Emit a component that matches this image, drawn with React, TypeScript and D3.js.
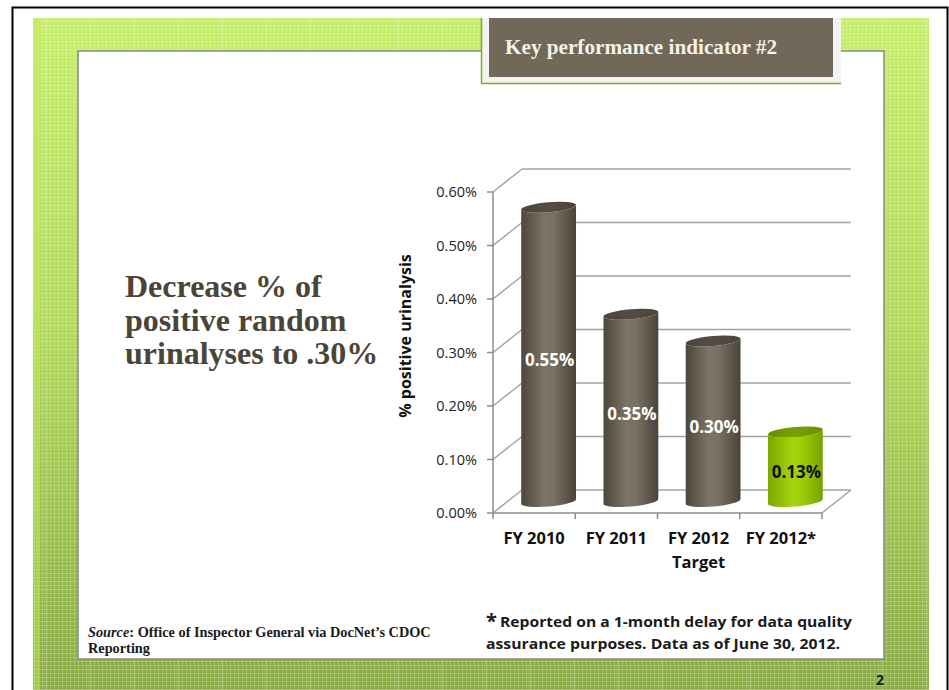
import React from "react";
import * as d3 from "d3";

// Chart data
const categories = ["FY 2010", "FY 2011", "FY 2012 Target", "FY 2012*"];
const categoryLines = [["FY 2010"], ["FY 2011"], ["FY 2012", "Target"], ["FY 2012*"]];
const values = [0.55, 0.35, 0.3, 0.13];
const highlight = [false, false, false, true];
const yTicks = [0, 0.1, 0.2, 0.3, 0.4, 0.5, 0.6];

const titleLines = ["Decrease % of", "positive random", "urinalyses to .30%"];
const footLines = ["Reported on a 1-month delay for data quality", "assurance purposes. Data as of June 30, 2012."];

const W = 949;
const H = 690;

// 3D depth offset of the plot box
const DX = 29;
const DY = -23;
const RX = 27.5;
const RY = 5;
const TILT = 5; // degrees

const x = d3.scaleBand<string>().domain(categories).range([493, 822]).padding(0);
const y = d3.scaleLinear().domain([0, 0.6]).range([513, 192]);

const fmt = (v: number) => `${v.toFixed(2)}%`;
const sansFont = "'Open Sans', 'Noto Sans', sans-serif";
const serifFont = "'Liberation Serif', 'DejaVu Serif', serif";

function Cylinder({ cx, top, bottom, green }: { cx: number; top: number; bottom: number; green: boolean }) {
  const t = (TILT * Math.PI) / 180;
  const ax = RX * Math.cos(t);
  const ay = RX * Math.sin(t);
  const body = [
    `M${cx - ax},${top + ay}`,
    `L${cx - ax},${bottom + ay}`,
    `A${RX},${RY} ${-TILT} 0 0 ${cx + ax},${bottom - ay}`,
    `L${cx + ax},${top - ay}`,
    `A${RX},${RY} ${-TILT} 0 1 ${cx - ax},${top + ay}`,
    "Z",
  ].join(" ");
  return (
    <g>
      <path d={body} fill={green ? "url(#bodyGreen)" : "url(#bodyBrown)"} />
      <ellipse
        cx={cx}
        cy={top}
        rx={RX}
        ry={RY}
        transform={`rotate(${-TILT},${cx},${top})`}
        fill={green ? "url(#topGreen)" : "url(#topBrown)"}
      />
    </g>
  );
}

export default function App() {
  const bw = x.bandwidth();
  const y0 = y(0);
  const xl = x.range()[0];
  const xr = x.range()[1];
  const gridStroke = "#a3a3a3";

  return (
    <svg
      width={W}
      height={H}
      viewBox={`0 0 ${W} ${H}`}
      style={{ position: "absolute", left: 0, top: 0, background: "#fff" }}
    >
      <defs>
        <linearGradient id="frameGrad" x1="0" y1="0" x2="0" y2="1">
          <stop offset="0" stopColor="#c4ed68" />
          <stop offset="0.45" stopColor="#b0d858" />
          <stop offset="1" stopColor="#88a943" />
        </linearGradient>
        <pattern id="mesh" width="4" height="4" patternUnits="userSpaceOnUse">
          <rect x="0" y="1" width="4" height="1" fill="#ffffff" opacity="0.22" />
          <rect x="2" y="0" width="1" height="4" fill="#ffffff" opacity="0.16" />
          <rect x="2" y="3" width="1" height="1" fill="#ffffff" opacity="0.15" />
        </pattern>
        <pattern id="bands" width="44" height="10" patternUnits="userSpaceOnUse">
          <rect x="0" y="0" width="4" height="10" fill="#ffffff" opacity="0.06" />
        </pattern>
        <linearGradient id="bodyBrown" x1="0" y1="0" x2="1" y2="0">
          <stop offset="0" stopColor="#4d463c" />
          <stop offset="0.42" stopColor="#7c7466" />
          <stop offset="0.6" stopColor="#787062" />
          <stop offset="1" stopColor="#4a4339" />
        </linearGradient>
        <linearGradient id="topBrown" x1="0" y1="0" x2="1" y2="0">
          <stop offset="0" stopColor="#4b443a" />
          <stop offset="0.5" stopColor="#554d43" />
          <stop offset="1" stopColor="#4a433a" />
        </linearGradient>
        <linearGradient id="bodyGreen" x1="0" y1="0" x2="1" y2="0">
          <stop offset="0" stopColor="#7aa800" />
          <stop offset="0.45" stopColor="#a6d40c" />
          <stop offset="0.6" stopColor="#a0cf08" />
          <stop offset="1" stopColor="#76a200" />
        </linearGradient>
        <linearGradient id="topGreen" x1="0" y1="0" x2="1" y2="0">
          <stop offset="0" stopColor="#6a9000" />
          <stop offset="0.5" stopColor="#78a000" />
          <stop offset="1" stopColor="#6a8f00" />
        </linearGradient>
      </defs>

      {/* slide border */}
      <rect x={12.5} y={7.5} width={935} height={700} fill="#fff" stroke="#000" strokeWidth={2} />

      {/* textured green frame */}
      <rect x={33} y={18} width={896} height={680} fill="url(#frameGrad)" />
      <rect x={33} y={18} width={896} height={680} fill="url(#mesh)" />
      <rect x={33} y={18} width={896} height={680} fill="url(#bands)" />
      <rect x={33} y={18} width={7} height={680} fill="#c0e85a" opacity={0.45} />

      {/* white content panel */}
      <rect x={78} y={51} width={806} height={608} fill="#fff" stroke="#8a8a8a" strokeWidth={1.5} />

      {/* heading box */}
      <rect x={481} y={18} width={360} height={65} fill="#f3f3f3" />
      <line x1={481.5} y1={18} x2={481.5} y2={83.5} stroke="#7fb01c" strokeWidth={1.5} />
      <line x1={481} y1={83.5} x2={841} y2={83.5} stroke="#7fb01c" strokeWidth={1.5} />
      <rect x={489} y={18} width={344} height={59} fill="#726859" />
      <text x={505} y={54} fontFamily={serifFont} fontWeight="bold" fontSize={21.2} fill="#f6f2ea">
        Key performance indicator #2
      </text>

      {/* left statement */}
      {titleLines.map((line, i) => (
        <text
          key={line}
          x={125}
          y={297 + i * 33.5}
          fontFamily={serifFont}
          fontWeight="bold"
          fontSize={32}
          fill="#4a4536"
        >
          {line}
        </text>
      ))}

      {/* back wall gridlines */}
      {yTicks.map((t) => (
        <g key={`g${t}`}>
          <line x1={xl + DX} y1={y(t) + DY} x2={xr + DX} y2={y(t) + DY} stroke={gridStroke} strokeWidth={1.5} />
          <line x1={xl} y1={y(t)} x2={xl + DX} y2={y(t) + DY} stroke={gridStroke} strokeWidth={1.5} />
        </g>
      ))}
      {/* floor */}
      <line x1={xr} y1={y0} x2={xr + DX} y2={y0 + DY} stroke={gridStroke} strokeWidth={1.5} />
      <line x1={xl} y1={y0} x2={xr} y2={y0} stroke="#8c8c8c" strokeWidth={1.5} />
      {/* value axis */}
      <line x1={xl} y1={y(0.6)} x2={xl} y2={y0} stroke="#8c8c8c" strokeWidth={1.5} />
      {yTicks.map((t) => (
        <g key={`t${t}`}>
          <line x1={xl - 6} y1={y(t)} x2={xl} y2={y(t)} stroke="#8c8c8c" strokeWidth={1.5} />
          <text
            x={477}
            y={y(t) + 5}
            textAnchor="end"
            fontFamily={sansFont}
            fontSize={14.5}
            fill="#222"
          >
            {fmt(t)}
          </text>
        </g>
      ))}
      {/* category ticks */}
      {[...categories.map((c) => x(c) as number), xr].map((px, i) => (
        <line key={`c${i}`} x1={px} y1={y0} x2={px} y2={y0 + 6} stroke="#8c8c8c" strokeWidth={1.5} />
      ))}

      {/* cylinders */}
      {categories.map((c, i) => {
        const cx = (x(c) as number) + bw / 2 + DX / 2;
        return (
          <Cylinder key={c} cx={cx} top={y(values[i]) + DY / 2} bottom={y0 + DY / 2} green={highlight[i]} />
        );
      })}

      {/* value labels */}
      {categories.map((c, i) => {
        const cx = (x(c) as number) + bw / 2 + DX / 2 + 1;
        const top = y(values[i]) + DY / 2;
        const cy = (top + y0) / 2;
        return (
          <text
            key={`v${c}`}
            x={cx}
            y={cy + 6}
            textAnchor="middle"
            fontFamily={sansFont}
            fontWeight="bold"
            fontSize={17}
            fill={highlight[i] ? "#111" : "#fff"}
          >
            {fmt(values[i])}
          </text>
        );
      })}

      {/* category labels */}
      {categories.map((c, i) =>
        categoryLines[i].map((line, j) => (
          <text
            key={`x${c}${j}`}
            x={(x(c) as number) + bw / 2}
            y={544 + j * 24}
            textAnchor="middle"
            fontFamily={sansFont}
            fontWeight="bold"
            fontSize={16.5}
            fill="#111"
          >
            {line}
          </text>
        ))
      )}

      {/* value axis title */}
      <text
        transform="translate(411,336) rotate(-90)"
        textAnchor="middle"
        fontFamily={sansFont}
        fontWeight="bold"
        fontSize={16}
        fill="#111"
      >
        % positive urinalysis
      </text>

      {/* source note */}
      <text x={88} y={637} fontFamily={serifFont} fontWeight="bold" fontSize={14.3} fill="#1a1a1a">
        <tspan fontStyle="italic">Source</tspan>
        <tspan>: Office of Inspector General via DocNet’s CDOC</tspan>
      </text>
      <text x={88} y={653} fontFamily={serifFont} fontWeight="bold" fontSize={14.3} fill="#1a1a1a">
        Reporting
      </text>

      {/* footnote */}
      <text x={486} y={628} fontFamily={sansFont} fontWeight="bold" fontSize={20} fill="#1a1a1a">
        *
      </text>
      <text
        x={500}
        y={627}
        fontFamily={sansFont}
        fontWeight="bold"
        fontSize={14.5}
        fill="#1a1a1a"
        textLength={352}
        lengthAdjust="spacingAndGlyphs"
      >
        {footLines[0]}
      </text>
      <text
        x={486}
        y={649}
        fontFamily={sansFont}
        fontWeight="bold"
        fontSize={14.5}
        fill="#1a1a1a"
        textLength={354}
        lengthAdjust="spacingAndGlyphs"
      >
        {footLines[1]}
      </text>

      {/* slide number */}
      <text x={880} y={685} textAnchor="middle" fontFamily={sansFont} fontWeight="bold" fontSize={14} fill="#1a1a1a">
        2
      </text>
    </svg>
  );
}
